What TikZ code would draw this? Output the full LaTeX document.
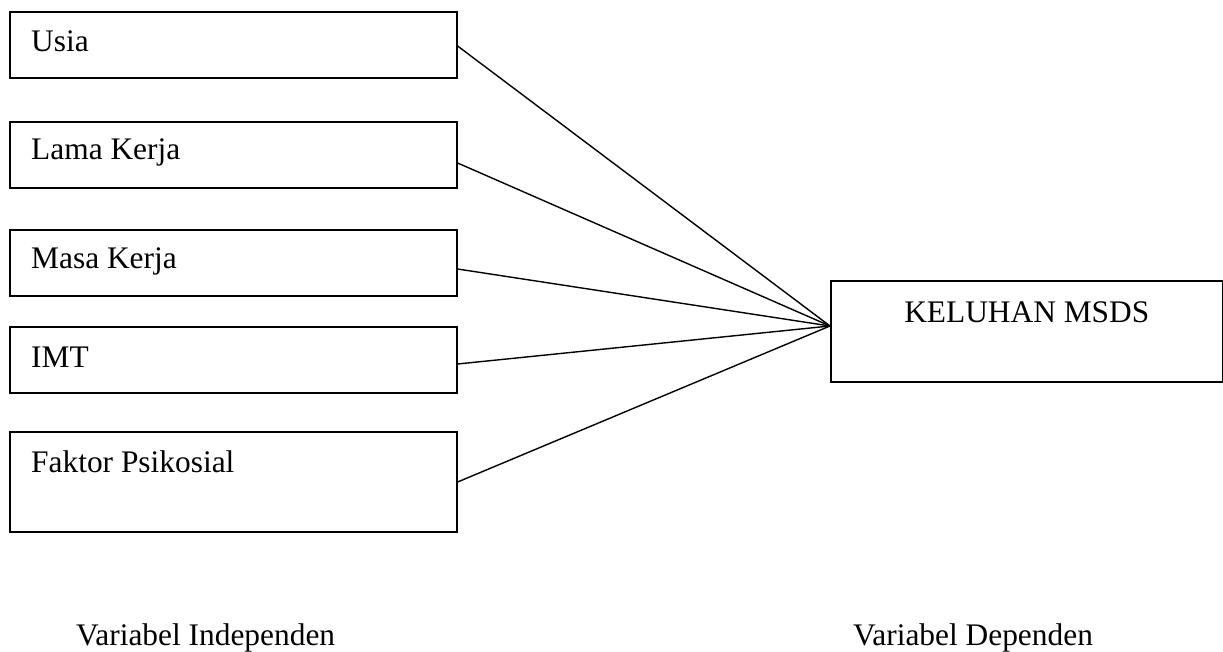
\documentclass[tikz,border=0pt]{standalone}
\usepackage{fontspec}
\setmainfont{Liberation Serif}
\usetikzlibrary{calc}
\begin{document}
\begin{tikzpicture}[x=1pt,y=-1pt,
  box/.style={draw,line width=1.6pt,rectangle,minimum width=447pt,minimum height=66pt,anchor=north west,inner sep=0pt},
  lbl/.style={anchor=base west,inner sep=0pt,font=\fontsize{31.4}{36}\selectfont},
  link/.style={line width=1.4pt}]
\useasboundingbox (0,0) rectangle (1223,652);
\node[box] (u) at (9,11) {};
\node[box] (l) at (9,121) {};
\node[box] (mk) at (9,229) {};
\node[box] (i) at (9,326) {};
\node[box,minimum height=100pt] (f) at (9,431) {};
\node[box,minimum width=392pt,minimum height=101pt] (k) at (830,280) {};
\node[lbl] (tu) at ($(u.north west)+(22,41)$) {Usia};
\node[lbl] (tl) at ($(l.north west)+(22,39)$) {Lama Kerja};
\node[lbl] (tm) at ($(mk.north west)+(22,40)$) {Masa Kerja};
\node[lbl] (ti) at ($(i.north west)+(22,41)$) {IMT};
\node[lbl] (tf) at ($(f.north west)+(22,41)$) {Faktor Psikosial};
\node[lbl,anchor=base] (tk) at ($(k.north)+(0,42)$) {KELUHAN MSDS};
\node[lbl] (vi) at (76,645) {Variabel Independen};
\node[lbl] (vd) at (853,645) {Variabel Dependen};
\coordinate (m) at ($(k.north west)+(0,46)$);
\draw[link] ($(u.north east)+(0,35)$) -- (m);
\draw[link] ($(l.north east)+(0,42)$) -- (m);
\draw[link] ($(mk.north east)+(0,40)$) -- (m);
\draw[link] ($(i.north east)+(0,38)$) -- (m);
\draw[link] ($(f.north east)+(0,51)$) -- (m);
\end{tikzpicture}
\end{document}
